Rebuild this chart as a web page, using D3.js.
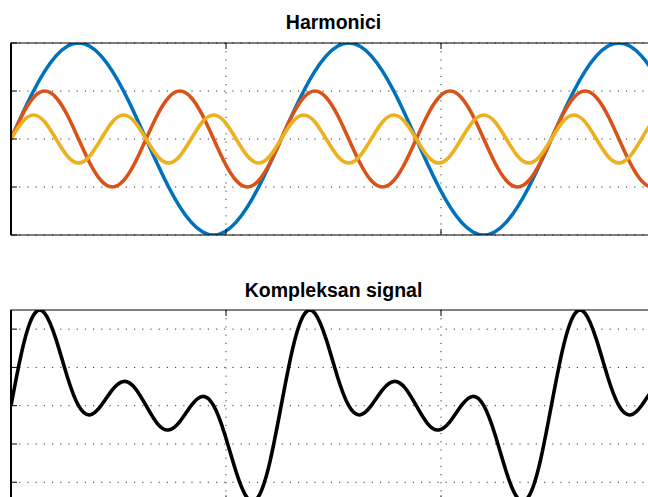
<!DOCTYPE html>
<html>
<head>
<meta charset="utf-8">
<script src="https://cdn.jsdelivr.net/npm/d3@7"></script>
<style>
  body { margin: 0; background: #fff; }
  svg { display: block; }
  .title { font-family: "Liberation Sans", Arial, Helvetica, sans-serif; font-weight: bold; font-size: 19.5px; }
</style>
</head>
<body>
<div id="chart"></div>
<script>
// samples taken every pi/12 along x (radians), 0 .. 58*pi/12
var sampleX = d3.range(0, 59).map(function(k) { return k * Math.PI / 12; });

// harmonic 1 (blue)
var harm1 = [
  0, .259, .5, .707, .866, .966, 1, .966, .866, .707, .5, .259,
  0, -.259, -.5, -.707, -.866, -.966, -1, -.966, -.866, -.707, -.5, -.259,
  0, .259, .5, .707, .866, .966, 1, .966, .866, .707, .5, .259,
  0, -.259, -.5, -.707, -.866, -.966, -1, -.966, -.866, -.707, -.5, -.259,
  0, .259, .5, .707, .866, .966, 1, .966, .866, .707, .5
];
// harmonic 2 (red)
var harm2 = [
  0, .25, .433, .5, .433, .25, 0, -.25, -.433, -.5, -.433, -.25,
  0, .25, .433, .5, .433, .25, 0, -.25, -.433, -.5, -.433, -.25,
  0, .25, .433, .5, .433, .25, 0, -.25, -.433, -.5, -.433, -.25,
  0, .25, .433, .5, .433, .25, 0, -.25, -.433, -.5, -.433, -.25,
  0, .25, .433, .5, .433, .25, 0, -.25, -.433, -.5, -.433
];
// harmonic 3 (yellow)
var harm3 = [
  0, .177, .25, .177, 0, -.177, -.25, -.177,
  0, .177, .25, .177, 0, -.177, -.25, -.177,
  0, .177, .25, .177, 0, -.177, -.25, -.177,
  0, .177, .25, .177, 0, -.177, -.25, -.177,
  0, .177, .25, .177, 0, -.177, -.25, -.177,
  0, .177, .25, .177, 0, -.177, -.25, -.177,
  0, .177, .25, .177, 0, -.177, -.25, -.177,
  0, .177, .25
];
// complex signal (black)
var complexSig = [
  0, .733, 1.183, 1.207, .866, .379, 0, -.121, 0, .207, .317, .233,
  0, -.233, -.317, -.207, 0, .121, 0, -.379, -.866, -1.207, -1.183, -.733,
  0, .733, 1.183, 1.207, .866, .379, 0, -.121, 0, .207, .317, .233,
  0, -.233, -.317, -.207, 0, .121, 0, -.379, -.866, -1.207, -1.183, -.733,
  0, .733, 1.183, 1.207, .866, .379, 0, -.121, 0, .207, .317
];

var xTicks = [0, 5, 10, 15];
var yTicksTop = [-1, -0.5, 0, 0.5, 1];
var yTicksBottom = [-1, -0.5, 0, 0.5, 1];

var width = 648, height = 497;
var left = 11, right = 656;

var svg = d3.select("#chart").append("svg")
  .attr("width", width)
  .attr("height", height);

svg.append("rect").attr("width", width).attr("height", height).attr("fill", "#fff");

var x = d3.scaleLinear().domain([0, 15]).range([left, right]);

function panel(id, top, bottom, yDomain, yTicks, title, titleY, series) {
  var y = d3.scaleLinear().domain(yDomain).range([bottom, top]);
  var g = svg.append("g");

  svg.append("clipPath").attr("id", id)
    .append("rect")
    .attr("x", left).attr("y", top)
    .attr("width", right - left).attr("height", bottom - top);

  // grid
  g.selectAll(".hgrid").data(yTicks).enter().append("line")
    .attr("x1", left).attr("x2", right)
    .attr("y1", function(d) { return y(d); }).attr("y2", function(d) { return y(d); })
    .attr("stroke", "#333").attr("stroke-width", 1)
    .attr("stroke-dasharray", "1.2 7");
  g.selectAll(".vgrid").data(xTicks).enter().append("line")
    .attr("x1", function(d) { return x(d); }).attr("x2", function(d) { return x(d); })
    .attr("y1", top).attr("y2", bottom)
    .attr("stroke", "#333").attr("stroke-width", 1)
    .attr("stroke-dasharray", "1.2 7");

  var line = d3.line()
    .x(function(d, i) { return x(sampleX[i]); })
    .y(function(d) { return y(d); })
    .curve(d3.curveNatural);

  var lines = g.append("g").attr("clip-path", "url(#" + id + ")");
  series.forEach(function(s) {
    lines.append("path")
      .attr("d", line(s.values))
      .attr("fill", "none")
      .attr("stroke", s.color)
      .attr("stroke-width", 3.6)
      .attr("stroke-linejoin", "round");
  });

  // box and inward ticks
  g.append("rect")
    .attr("x", left).attr("y", top)
    .attr("width", right - left).attr("height", bottom - top)
    .attr("fill", "none").attr("stroke", "#000").attr("stroke-width", 1);
  g.append("line").attr("x1", left).attr("x2", left).attr("y1", top).attr("y2", bottom)
    .attr("stroke", "#000").attr("stroke-width", 2);

  g.selectAll(".ytick").data(yTicks).enter().append("line")
    .attr("x1", left).attr("x2", left + 6)
    .attr("y1", function(d) { return y(d); }).attr("y2", function(d) { return y(d); })
    .attr("stroke", "#000").attr("stroke-width", 1);
  g.selectAll(".xtickT").data(xTicks).enter().append("line")
    .attr("x1", function(d) { return x(d); }).attr("x2", function(d) { return x(d); })
    .attr("y1", top).attr("y2", top + 6)
    .attr("stroke", "#000").attr("stroke-width", 1);
  g.selectAll(".xtickB").data(xTicks).enter().append("line")
    .attr("x1", function(d) { return x(d); }).attr("x2", function(d) { return x(d); })
    .attr("y1", bottom).attr("y2", bottom - 6)
    .attr("stroke", "#000").attr("stroke-width", 1);

  svg.append("text")
    .attr("class", "title")
    .attr("x", (left + right) / 2)
    .attr("y", titleY)
    .attr("text-anchor", "middle")
    .text(title);
}

panel("clipTop", 43, 235, [-1, 1], yTicksTop, "Harmonici", 29, [
  { values: harm1, color: "#0072BD" },
  { values: harm2, color: "#D95319" },
  { values: harm3, color: "#EDB120" }
]);

panel("clipBottom", 310, 501.4, [-1.25, 1.25], yTicksBottom, "Kompleksan signal", 296.5, [
  { values: complexSig, color: "#000" }
]);
</script>
</body>
</html>
